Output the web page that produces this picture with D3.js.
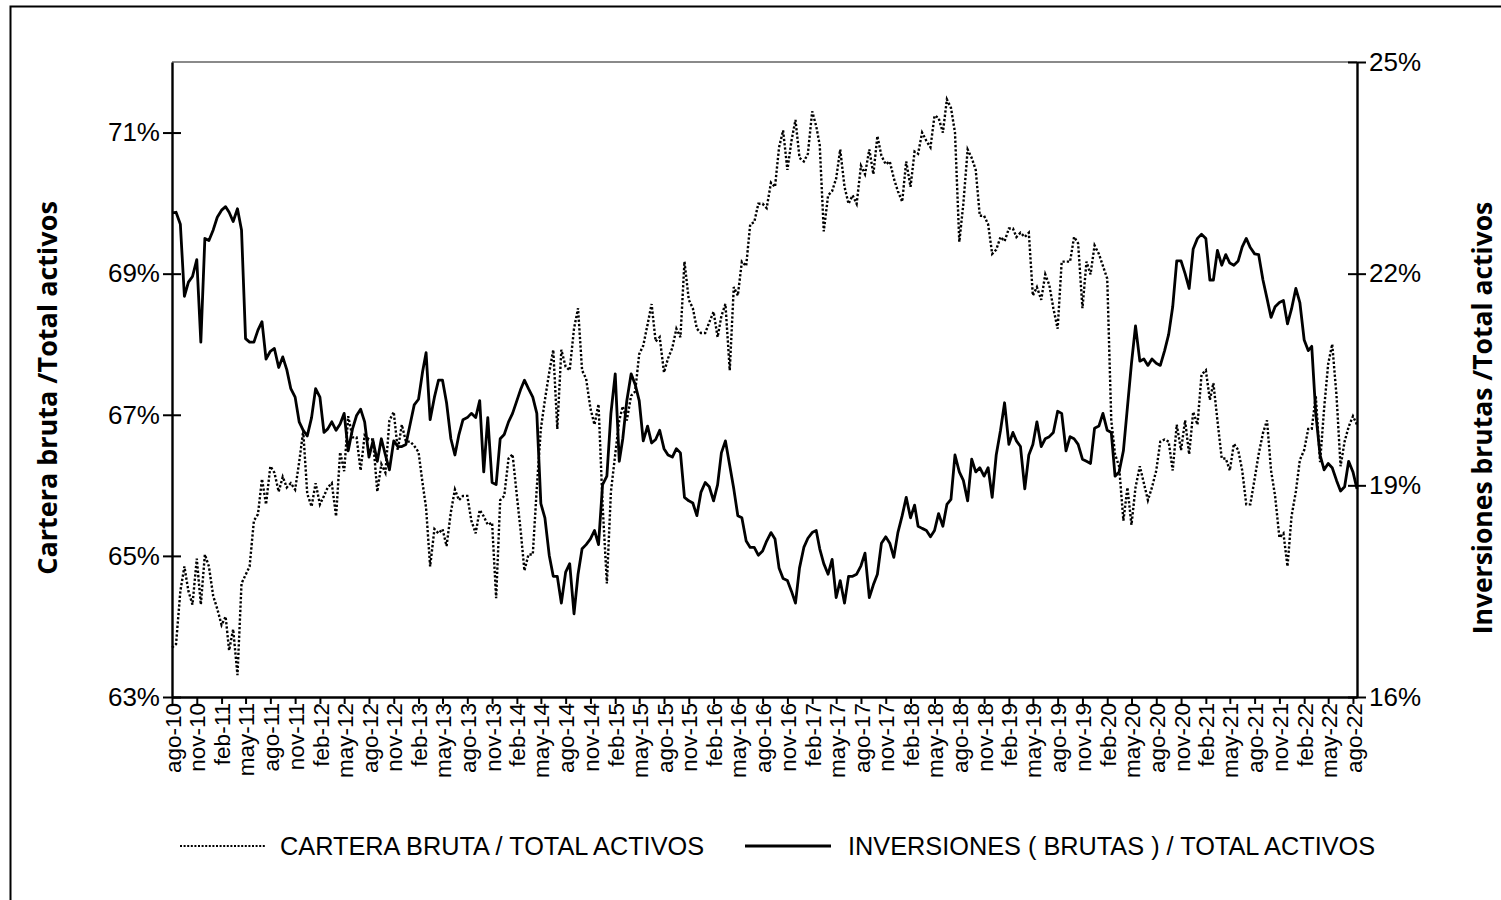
<!DOCTYPE html>
<html>
<head>
<meta charset="utf-8">
<script src="https://cdn.jsdelivr.net/npm/d3@7"></script>
<style>
  body { margin: 0; background: #fff; }
  svg { display: block; }
  text { font-family: "Liberation Sans", Arial, sans-serif; fill: #000; }
</style>
</head>
<body>
<svg id="chart" width="1501" height="900"></svg>
<script>
// Observaciones quincenales (día 1 y día 16 de cada mes), ago-2010 a ago-2022
const nObs = 290;
const fechas = d3.range(nObs).map(i => new Date(2010, 7 + Math.floor(i / 2), i % 2 ? 16 : 1));

// Cartera bruta / total activos (%), eje izquierdo
const cartera = [
  63.7, 63.75, 64.5, 64.85, 64.5, 64.31, 64.96, 64.31, 65.02, 64.85,
  64.43, 64.25, 64.02, 64.14, 63.66, 63.96, 63.31, 64.61, 64.73, 64.85,
  65.5, 65.59, 66.09, 65.73, 66.27, 66.18, 65.91, 66.12, 65.97, 66.03,
  65.94, 66.33, 66.77, 65.88, 65.7, 66.03, 65.73, 65.85, 65.97, 66.03,
  65.56, 66.47, 66.2, 66.98, 66.68, 66.68, 66.21, 66.71, 66.65, 66.65,
  65.91, 66.3, 66.18, 66.92, 67.04, 66.5, 66.86, 66.62, 66.62, 66.56,
  66.47, 66.03, 65.68, 64.85, 65.38, 65.32, 65.38, 65.14, 65.62, 65.94,
  65.79, 65.85, 65.85, 65.5, 65.32, 65.65, 65.56, 65.44, 65.47, 64.4,
  65.79, 65.85, 66.38, 66.44, 65.85, 65.32, 64.79, 65.02, 65.02, 65.97,
  66.8, 67.21, 67.6, 67.92, 66.8, 67.92, 67.68, 67.63, 68.22, 68.51,
  67.63, 67.51, 67.09, 66.86, 67.15, 65.73, 64.61, 65.91, 66.44, 66.92,
  67.12, 66.92, 67.27, 67.33, 67.86, 67.98, 68.28, 68.57, 68.04, 68.1,
  67.6, 67.8, 67.95, 68.22, 68.1, 69.17, 68.63, 68.51, 68.22, 68.16,
  68.16, 68.31, 68.46, 68.1, 68.4, 68.57, 67.63, 68.81, 68.69, 69.17,
  69.11, 69.7, 69.73, 69.99, 69.99, 69.93, 70.29, 70.23, 70.79, 71.03,
  70.47, 70.88, 71.18, 70.64, 70.59, 70.7, 71.3, 71.09, 70.82, 69.6,
  70.11, 70.17, 70.35, 70.76, 70.23, 69.99, 70.11, 69.99, 70.53, 70.41,
  70.76, 70.41, 70.95, 70.67, 70.55, 70.59, 70.35, 70.17, 70.02, 70.59,
  70.23, 70.73, 70.7, 71.0, 70.88, 70.79, 71.24, 71.21, 71.0, 71.47,
  71.35, 71.0, 69.45, 69.99, 70.76, 70.64, 70.47, 69.82, 69.82, 69.7,
  69.28, 69.34, 69.52, 69.46, 69.64, 69.64, 69.52, 69.58, 69.52, 69.58,
  68.69, 68.81, 68.63, 68.99, 68.84, 68.51, 68.22, 69.17, 69.17, 69.17,
  69.52, 69.43, 68.51, 69.17, 68.99, 69.4, 69.28, 69.11, 68.93, 66.92,
  66.44, 66.27, 65.5, 65.97, 65.44, 65.97, 66.27, 66.03, 65.79, 65.97,
  66.21, 66.62, 66.65, 66.62, 66.21, 66.86, 66.5, 66.92, 66.44, 67.04,
  66.86, 67.57, 67.63, 67.21, 67.45, 66.92, 66.38, 66.38, 66.21, 66.59,
  66.5, 66.21, 65.73, 65.73, 66.09, 66.44, 66.74, 66.92, 66.21, 65.85,
  65.26, 65.32, 64.85, 65.56, 65.91, 66.36, 66.5, 66.8, 66.8, 67.27,
  66.33, 67.09, 67.72, 68.0, 67.27, 66.27, 66.62, 66.83, 66.98, 66.86
];

// Inversiones (brutas) / total activos (%), eje derecho
const inversiones = [
  22.86, 22.87, 22.7, 21.68, 21.88, 21.96, 22.2, 21.03, 22.5, 22.47,
  22.62, 22.8, 22.9, 22.95, 22.87, 22.74, 22.92, 22.62, 21.08, 21.03,
  21.03, 21.2, 21.32, 20.79, 20.9, 20.94, 20.67, 20.82, 20.64, 20.37,
  20.25, 19.9, 19.78, 19.7, 19.96, 20.37, 20.25, 19.75, 19.8, 19.9,
  19.78, 19.87, 20.02, 19.49, 19.8, 19.99, 20.08, 19.9, 19.4, 19.63,
  19.34, 19.66, 19.43, 19.22, 19.63, 19.55, 19.55, 19.58, 19.87, 20.14,
  20.22, 20.61, 20.88, 19.93, 20.25, 20.49, 20.49, 20.17, 19.66, 19.43,
  19.72, 19.93, 19.96, 20.02, 19.96, 20.2, 19.19, 19.96, 19.04, 19.01,
  19.66, 19.72, 19.9, 20.02, 20.2, 20.37, 20.49, 20.37, 20.25, 20.02,
  18.74, 18.54, 18.01, 17.71, 17.71, 17.33, 17.77, 17.89, 17.18, 17.74,
  18.1, 18.16, 18.24, 18.36, 18.16, 19.01, 19.13, 20.02, 20.58, 19.34,
  19.66, 20.2, 20.58, 20.43, 20.2, 19.63, 19.84, 19.6, 19.65, 19.78,
  19.52, 19.43, 19.4, 19.52, 19.46, 18.83, 18.78, 18.75, 18.57, 18.9,
  19.04, 18.98, 18.78, 19.01, 19.46, 19.63, 19.28, 18.95, 18.57, 18.54,
  18.21, 18.12, 18.12, 18.01, 18.07, 18.21, 18.33, 18.24, 17.83, 17.68,
  17.65, 17.5, 17.33, 17.83, 18.12, 18.25, 18.33, 18.36, 18.1, 17.89,
  17.74, 17.95, 17.41, 17.65, 17.33, 17.71, 17.71, 17.74, 17.86, 18.04,
  17.41, 17.59, 17.74, 18.18, 18.27, 18.18, 17.98, 18.33, 18.57, 18.83,
  18.54, 18.72, 18.42, 18.39, 18.36, 18.27, 18.36, 18.6, 18.42, 18.73,
  18.8, 19.43, 19.19, 19.07, 18.78, 19.37, 19.19, 19.25, 19.13, 19.25,
  18.83, 19.43, 19.78, 20.17, 19.58, 19.75, 19.63, 19.55, 18.95, 19.43,
  19.58, 19.9, 19.55, 19.66, 19.69, 19.75, 20.05, 20.02, 19.49, 19.69,
  19.66, 19.58, 19.37, 19.34, 19.31, 19.81, 19.84, 20.02, 19.78, 19.75,
  19.13, 19.19, 19.49, 20.11, 20.73, 21.26, 20.76, 20.79, 20.7, 20.79,
  20.73, 20.7, 20.91, 21.14, 21.53, 22.18, 22.18, 22.0, 21.79, 22.35,
  22.5, 22.56, 22.5, 21.91, 21.91, 22.33, 22.12, 22.27, 22.15, 22.12,
  22.18, 22.38, 22.5, 22.37, 22.28, 22.27, 21.91, 21.65, 21.38, 21.53,
  21.59, 21.62, 21.29, 21.5, 21.79, 21.59, 21.06, 20.91, 20.97, 20.02,
  19.43, 19.22, 19.31, 19.25, 19.07, 18.92, 18.98, 19.34, 19.19, 18.95
];

// Marcas de los ejes
const ticksIzq = [63, 65, 67, 69, 71];
const ticksDer = [16, 19, 22, 25];
const mesesAbrev = ["ene", "feb", "mar", "abr", "may", "jun", "jul", "ago", "sep", "oct", "nov", "dic"];
const ticksFecha = d3.range(49).map(k => new Date(2010, 7 + 3 * k, 1));

const series = [
  { nombre: "CARTERA BRUTA / TOTAL ACTIVOS", valores: cartera, punteada: true },
  { nombre: "INVERSIONES ( BRUTAS ) / TOTAL ACTIVOS", valores: inversiones, punteada: false }
];

const estiloPunteado = { ancho: 2.4, guiones: "2.3,2" };
const estiloContinuo = { ancho: 2.8 };

const svg = d3.select("#chart");
const m = { left: 172, right: 1357, top: 62, bottom: 697 };

// Marco exterior
svg.append("rect")
  .attr("x", 10.5).attr("y", 6.5)
  .attr("width", 1500).attr("height", 910)
  .attr("fill", "none").attr("stroke", "#000").attr("stroke-width", 2);

const x = d3.scaleTime().domain([fechas[0], fechas[nObs - 1]]).range([m.left, m.right]);
const yIzq = d3.scaleLinear().domain([63, 72]).range([m.bottom, m.top]);
const yDer = d3.scaleLinear().domain([16, 25]).range([m.bottom, m.top]);

// Borde superior del área de trazado
svg.append("line")
  .attr("x1", m.left).attr("x2", m.right)
  .attr("y1", m.top).attr("y2", m.top)
  .attr("stroke", "#8a8a8a").attr("stroke-width", 2);

// Series
const lineaIzq = d3.line().x((d, i) => x(fechas[i])).y(d => yIzq(d));
const lineaDer = d3.line().x((d, i) => x(fechas[i])).y(d => yDer(d));

svg.append("path")
  .datum(cartera)
  .attr("d", lineaIzq)
  .attr("fill", "none").attr("stroke", "#000")
  .attr("stroke-width", estiloPunteado.ancho).attr("stroke-dasharray", estiloPunteado.guiones);

svg.append("path")
  .datum(inversiones)
  .attr("d", lineaDer)
  .attr("fill", "none").attr("stroke", "#000")
  .attr("stroke-width", estiloContinuo.ancho).attr("stroke-linejoin", "round");

// Eje X
const fmtFecha = d => mesesAbrev[d.getMonth()] + "-" + String(d.getFullYear()).slice(2);
const ejeX = svg.append("g")
  .attr("transform", `translate(0,${m.bottom})`)
  .call(d3.axisBottom(x).tickValues(ticksFecha).tickFormat(fmtFecha).tickSize(7).tickSizeOuter(0));
ejeX.select(".domain").attr("stroke-width", 2.4);
ejeX.selectAll(".tick line").attr("stroke-width", 2);
ejeX.selectAll(".tick text")
  .attr("transform", "rotate(-90)")
  .attr("x", -6).attr("y", 0).attr("dy", "0.36em")
  .attr("text-anchor", "end")
  .style("font-size", "22.5px")
  .style("font-family", "'Liberation Sans', Arial, sans-serif");

// Eje izquierdo
const ejeIzq = svg.append("g")
  .attr("transform", `translate(${m.left},0)`)
  .call(d3.axisLeft(yIzq).tickValues(ticksIzq).tickFormat(d => d + "%").tickSize(9).tickPadding(3).tickSizeOuter(0));
ejeIzq.select(".domain").attr("stroke-width", 2.4);
ejeIzq.selectAll(".tick line").attr("x1", 9).attr("x2", -9).attr("stroke-width", 2);
ejeIzq.selectAll(".tick text").style("font-size", "26px")
  .style("font-family", "'Liberation Sans', Arial, sans-serif");

// Eje derecho
const ejeDer = svg.append("g")
  .attr("transform", `translate(${m.right},0)`)
  .call(d3.axisRight(yDer).tickValues(ticksDer).tickFormat(d => d + "%").tickSize(9).tickPadding(3).tickSizeOuter(0));
ejeDer.select(".domain").attr("stroke-width", 2.4);
ejeDer.selectAll(".tick line").attr("x1", -9).attr("x2", 9).attr("stroke-width", 2);
ejeDer.selectAll(".tick text").style("font-size", "26px")
  .style("font-family", "'Liberation Sans', Arial, sans-serif");

// Títulos de los ejes
svg.append("text")
  .attr("transform", "translate(57,388) rotate(-90)")
  .attr("text-anchor", "middle")
  .style("font-family", "'Open Sans', Lato, sans-serif")
  .style("font-weight", "bold").style("font-size", "27px")
  .text("Cartera bruta /Total activos");

svg.append("text")
  .attr("transform", "translate(1492,418) rotate(-90)")
  .attr("text-anchor", "middle")
  .style("font-family", "'Open Sans', Lato, sans-serif")
  .style("font-weight", "bold").style("font-size", "26.5px")
  .text("Inversiones brutas /Total activos");

// Leyenda
const leyenda = svg.append("g").attr("transform", "translate(0,846)");
const posLeyenda = [180, 745];
series.forEach((s, k) => {
  const g = leyenda.append("g").attr("transform", `translate(${posLeyenda[k]},0)`);
  g.append("line")
    .attr("x1", 0).attr("x2", 86).attr("y1", 0).attr("y2", 0)
    .attr("stroke", "#000")
    .attr("stroke-width", s.punteada ? 2 : estiloContinuo.ancho)
    .attr("stroke-dasharray", s.punteada ? "2,1.6" : null);
  g.append("text")
    .attr("x", s.punteada ? 100 : 103).attr("y", 0).attr("dy", "0.36em")
    .style("font-size", "25.3px")
    .text(s.nombre);
});
</script>
</body>
</html>
